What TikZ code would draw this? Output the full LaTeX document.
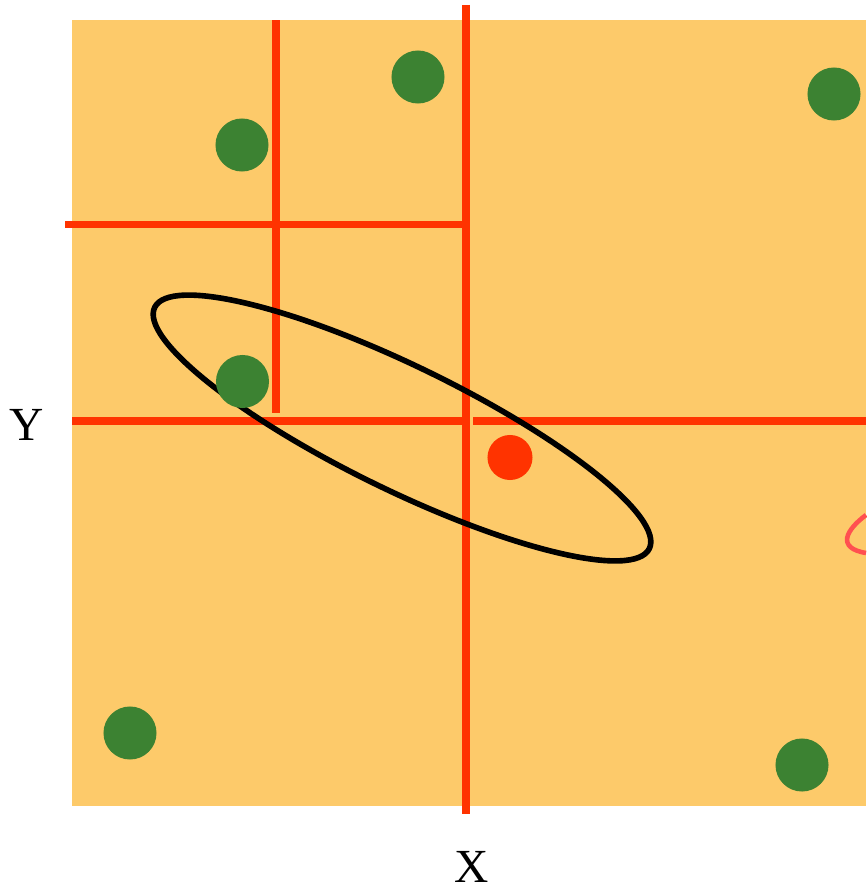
\documentclass[tikz,border=0pt]{standalone}
\usepackage{fontspec}
\setmainfont{Liberation Serif}
\usetikzlibrary{positioning}
\definecolor{sand}{RGB}{253,202,106}
\definecolor{cutred}{RGB}{255,51,0}
\definecolor{leafgreen}{RGB}{60,130,50}
\definecolor{loopred}{RGB}{255,80,80}
\tikzset{cut/.style = {draw=cutred, line width=2.1pt}}
\tikzset{pt/.style = {fill=leafgreen, circle, inner sep=0, minimum size=0.53cm}}
\tikzset{query/.style = {fill=cutred, circle, inner sep=0, minimum size=0.45cm}}
\tikzset{axislabel/.style = {font=\fontsize{13.5}{16}\selectfont, inner sep=0}}

\begin{document}
\begin{tikzpicture}[x=0.01cm, y=-0.01cm]
      \useasboundingbox (0,0) rectangle (866,888);
      \fill[sand] (72,20) rectangle (866,806);
      % splitting lines
      \draw[cut] (466,5) -- (466,814);
      \draw[cut] (72,421) -- (466,421);
      \draw[cut] (473,421) -- (866,421);
      \draw[cut] (65,224.5) -- (462,224.5);
      \draw[cut] (276,20.5) -- (276,413);
      % search region
      \draw[line width=1.6pt, rotate around={-26:(402,428)}]
        (402,428) ellipse [x radius=2.75cm, y radius=0.62cm];
      \draw[loopred, line width=1.3pt]
        (866,515) .. controls (846,530) and (836,548) .. (866,553);
      % points
      \node[pt] (p1) at (418,77) {};
      \node[pt] (p2) at (242,145) {};
      \node[pt] (p3) at (834,94) {};
      \node[pt] (p4) at (242.5,381.5) {};
      \node[pt] (p5) at (130,733) {};
      \node[pt] (p6) at (802,765) {};
      \node[query] (q) at (510,457.5) {};
      \node[axislabel] (ylab) at (27,425) {Y};
      \node[axislabel] (xlab) at (472,867) {X};
    \end{tikzpicture}
\end{document}
